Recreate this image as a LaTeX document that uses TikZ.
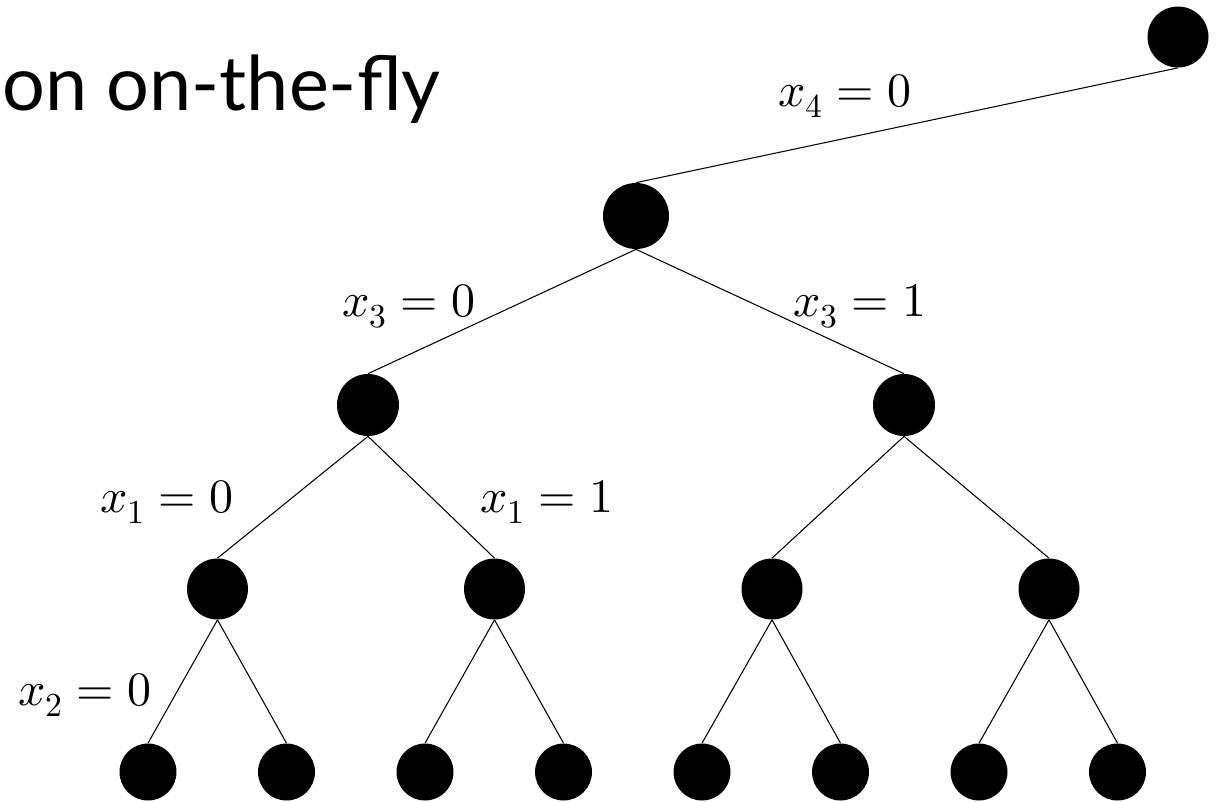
\documentclass[tikz,border=0pt]{standalone}
\usepackage{fontspec}
\usepackage{unicode-math}
\setmathfont{Latin Modern Math}
\newfontfamily\titlefont{Lato}

\tikzset{
  dot/.style={circle, fill=black, inner sep=0pt, minimum size=#1},
  branch/.style={line width=0.6pt},
  lbl/.style={anchor=base west, inner sep=0pt, font=\fontsize{27.3}{32}\selectfont}
}

\begin{document}
\begin{tikzpicture}[x=0.02cm, y=-0.02cm]
  \useasboundingbox (0,0) rectangle (1222,801);

  \node[anchor=base west, inner sep=0pt, font=\titlefont\fontsize{43}{52}\selectfont] (title) at (2,110) {on on-the-fly};

  \node[dot=1.22cm] (r) at (1178,37) {};
  \node[dot=1.32cm] (a) at (636,216) {};
  \node[dot=1.24cm] (a0) at (368,405) {};
  \node[dot=1.24cm] (a1) at (904,405) {};
  \foreach \n/\x in {a00/217.5, a01/494.5, a10/772, a11/1049}
    \node[dot=1.22cm] (\n) at (\x,589) {};
  \foreach \n/\x in {a000/148, a001/286.5, a010/425, a011/563.5, a100/702, a101/840.5, a110/979, a111/1117.5}
    \node[dot=1.14cm] (\n) at (\x,772) {};

  \foreach \p/\c in {r/a, a/a0, a/a1, a0/a00, a0/a01, a1/a10, a1/a11,
                     a00/a000, a00/a001, a01/a010, a01/a011, a10/a100, a10/a101, a11/a110, a11/a111}
    \draw[branch] (\p.south) -- (\c.north);

  \node[lbl] (l4) at (778,106) {$x_4 = 0$};
  \node[lbl] (l30) at (342,316) {$x_3 = 0$};
  \node[lbl] (l31) at (793,316) {$x_3 = 1$};
  \node[lbl] (l10) at (100,512) {$x_1 = 0$};
  \node[lbl] (l11) at (480,512) {$x_1 = 1$};
  \node[lbl] (l20) at (18,705) {$x_2 = 0$};
\end{tikzpicture}
\end{document}
